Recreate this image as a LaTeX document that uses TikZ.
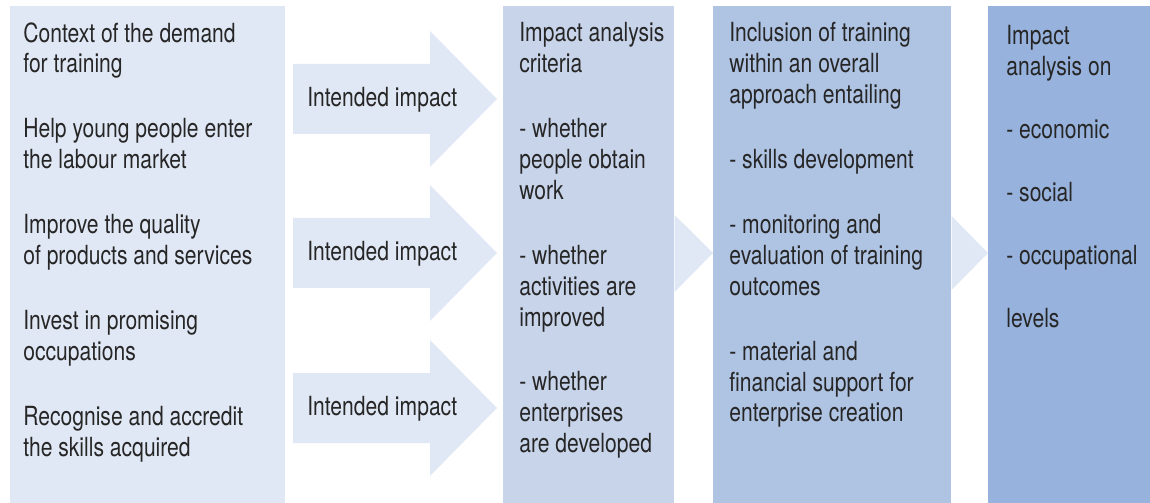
\documentclass[tikz,border=0pt]{standalone}
\usepackage{fontspec}
\setmainfont{TeX Gyre Heros}[FakeStretch=0.8]
\definecolor{colContext}{HTML}{E1E8F5}
\definecolor{colCriteria}{HTML}{C8D4EA}
\definecolor{colInclusion}{HTML}{AFC3E3}
\definecolor{colLevels}{HTML}{97B2DC}
\definecolor{colArrow}{HTML}{E1E8F5}
\tikzset{
  column/.style={rectangle, draw=none, anchor=north west, inner sep=0pt, minimum height=9.94cm},
  coltext/.style={rectangle, draw=none, anchor=north west, align=left, inner sep=0pt, text=black!85},
  arrowtext/.style={rectangle, draw=none, anchor=base west, inner sep=0pt, text=black!85},
}
\begin{document}
\begin{tikzpicture}[x=0.02cm, y=-0.02cm, font=\fontsize{15}{17.6}\selectfont]
\useasboundingbox (0,0) rectangle (1150,503);
% \draw[help lines, step=50] (0,0) grid (1150,503);
%%%%%%%%%%%%%%%%%%%%%%%%%%%%%%% Columns
\node[column, fill=colContext, minimum width=5.5cm](cContext) at (10,6){};
\node[column, fill=colCriteria, minimum width=3.42cm](cCriteria) at (503,6){};
\node[column, fill=colInclusion, minimum width=4.76cm](cInclusion) at (713,6){};
\node[column, fill=colLevels, minimum width=3.24cm](cLevels) at (988,6){};

%%%%%%%%%%%%%%%%%%%%%%%%%%%%%%% Intended impact arrows
\fill[colArrow] (293,64) -- (430,64) -- (430,31) -- (497,99) -- (430,167) -- (430,134) -- (293,134) -- cycle;
\node[arrowtext](impA) at (307,107){Intended impact};

\fill[colArrow] (293,218) -- (430,218) -- (430,185) -- (497,253) -- (430,321) -- (430,288) -- (293,288) -- cycle;
\node[arrowtext](impB) at (307,261){Intended impact};

\fill[colArrow] (293,373) -- (430,373) -- (430,340) -- (497,408) -- (430,476) -- (430,443) -- (293,443) -- cycle;
\node[arrowtext](impC) at (307,416){Intended impact};

%%%%%%%%%%%%%%%%%%%%%%%%%%%%%%% Chevrons between columns
\fill[colArrow] (cCriteria.east |- 0,215) -- (cInclusion.west |- 0,253) -- (cCriteria.east |- 0,292) -- cycle;
\fill[colArrow] (cInclusion.east |- 0,216) -- (cLevels.west |- 0,253) -- (cInclusion.east |- 0,290) -- cycle;

%%%%%%%%%%%%%%%%%%%%%%%%%%%%%%% Column texts
\node[coltext](tContext) at (23,22){Context of the demand\\for training\\[0.68cm]
Help young people enter\\the labour market\\[0.68cm]
Improve the quality\\of products and services\\[0.68cm]
Invest in promising\\occupations\\[0.68cm]
Recognise and accredit\\the skills acquired};

\node[coltext](tCriteria) at (519,22){Impact analysis\\criteria\\[0.68cm]
- whether\\people obtain\\work\\[0.68cm]
- whether\\activities are\\improved\\[0.68cm]
- whether\\enterprises\\are developed};

\node[coltext](tInclusion) at (729,22){Inclusion of training\\within an overall\\approach entailing\\[0.68cm]
- skills development\\[0.68cm]
- monitoring and\\evaluation of training\\outcomes\\[0.68cm]
- material and\\financial support for\\enterprise creation};

\node[coltext](tLevels) at (1006,25){Impact\\analysis on\\[0.64cm]
- economic\\[0.64cm]
- social\\[0.64cm]
- occupational\\[0.64cm]
levels};

\end{tikzpicture}
\end{document}
